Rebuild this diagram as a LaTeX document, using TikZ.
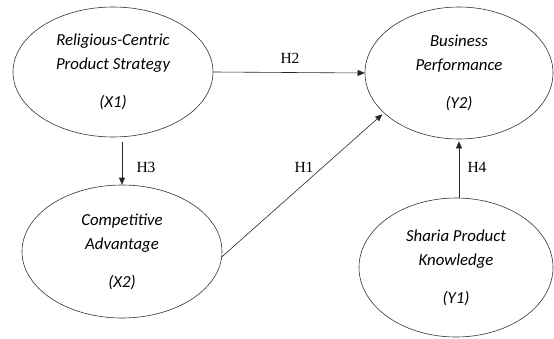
\documentclass[tikz,border=0pt]{standalone}
\usepackage{fontspec}
\setmainfont{Liberation Serif}
\newfontfamily\calfont{Carlito}
\usetikzlibrary{shapes.geometric,arrows.meta}
\begin{document}
\begin{tikzpicture}[x=1pt,y=1pt,
    var/.style={ellipse, draw=black!80, line width=0.6pt, inner sep=0pt, align=center,
      font=\calfont\itshape\fontsize{16.8}{24}\selectfont},
    link/.style={-{Triangle[length=7pt,width=6pt]}, draw=black!85, line width=0.6pt},
    hyp/.style={inner sep=0pt, font=\fontsize{15.5}{17}\selectfont}]
  \useasboundingbox (0,0) rectangle (554,338);

	\node[var, minimum width=200pt, minimum height=130pt] (X1) at (113,266)
	  {Religious-Centric\\Product Strategy\\[14pt](X1)};
	\node[var, minimum width=200pt, minimum height=133pt] (X2) at (122,86.5)
	  {Competitive\\Advantage\\[14pt](X2)};
	\node[var, minimum width=188pt, minimum height=132pt] (Y2) at (459,265)
	  {Business\\Performance\\[14pt](Y2)};
	\node[var, minimum width=194pt, minimum height=139pt] (Y1) at (456,70.5)
	  {Sharia Product\\Knowledge\\[14pt](Y1)};

	\draw[link] (X1.east) -- (Y2.west);
	\draw[link, shorten <=5pt] (X1.south -| X2.north) -- (X2.north);
	\draw[link, shorten >=2pt] (X2.357) -- (Y2.208);
	\draw[link, shorten >=2pt] (Y2.south |- Y1.north) -- (Y2.south);

	\node[hyp] (h2) at (290,280) {H2};
	\node[hyp] (h3) at (146,171) {H3};
	\node[hyp] (h1) at (304,171) {H1};
	\node[hyp] (h4) at (477,171) {H4};
\end{tikzpicture}
\end{document}
